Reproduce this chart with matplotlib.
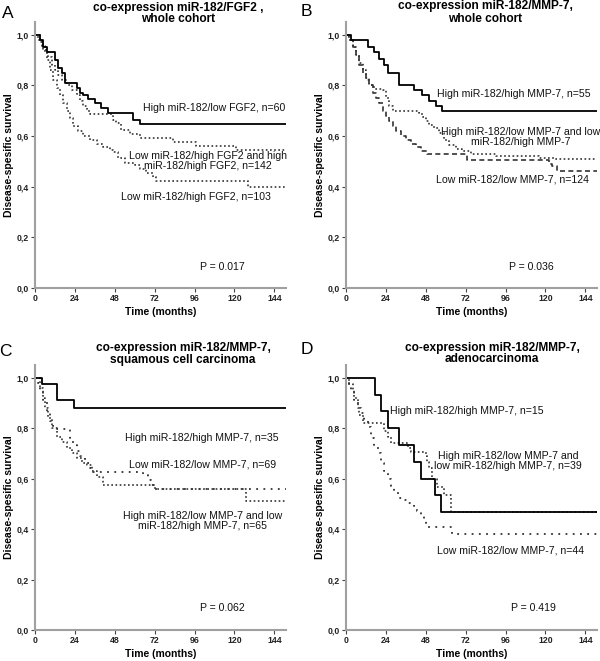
import matplotlib
matplotlib.use("Agg")
import matplotlib.pyplot as plt

plt.rcParams['font.family'] = ['Liberation Sans', 'DejaVu Sans']

W, H = 600, 661

# x/y ticks shared by all panels
x_ticks = [0, 24, 48, 72, 96, 120, 144]
y_ticks = [0.0, 0.2, 0.4, 0.6, 0.8, 1.0]
y_tick_labels = ["0,0", "0,2", "0,4", "0,6", "0,8", "1,0"]

# Panel A: miR-182/FGF2, whole cohort
a_hi_lo_t = [0, 3, 5, 7, 12, 14, 16, 18, 25, 27, 29, 32, 36, 40, 44, 59, 63, 151]
a_hi_lo_s = [1.0, 0.98, 0.95, 0.93, 0.90, 0.87, 0.85, 0.81, 0.79, 0.77, 0.76, 0.745,
             0.73, 0.71, 0.69, 0.665, 0.648, 0.648]
a_mix_t = [0, 2, 4, 6, 8, 10, 12, 14, 16, 19, 22, 25, 27, 29, 31, 33, 47, 49, 52, 57,
           63, 83, 97, 121, 151]
a_mix_s = [1.0, 0.98, 0.955, 0.93, 0.91, 0.88, 0.86, 0.84, 0.82, 0.80, 0.78, 0.76,
           0.74, 0.72, 0.70, 0.685, 0.665, 0.65, 0.625, 0.608, 0.592, 0.578, 0.562,
           0.545, 0.545]
a_lo_hi_t = [0, 3, 5, 7, 9, 11, 13, 15, 17, 19, 21, 23, 26, 29, 33, 37, 41, 45, 47,
             50, 54, 60, 63, 67, 71, 73, 128, 151]
a_lo_hi_s = [1.0, 0.97, 0.94, 0.90, 0.86, 0.82, 0.79, 0.76, 0.73, 0.70, 0.67, 0.64,
             0.62, 0.60, 0.585, 0.57, 0.555, 0.545, 0.535, 0.515, 0.495, 0.485, 0.47,
             0.455, 0.44, 0.424, 0.40, 0.40]

# Panel B: miR-182/MMP-7, whole cohort
b_hi_hi_t = [0, 3, 13, 17, 20, 23, 25, 32, 41, 46, 50, 54, 58, 151]
b_hi_hi_s = [1.0, 0.98, 0.95, 0.93, 0.905, 0.88, 0.85, 0.80, 0.78, 0.76, 0.74, 0.72,
             0.697, 0.697]
b_mix_t = [0, 2, 4, 6, 8, 10, 12, 14, 17, 22, 24, 26, 28, 44, 46, 48, 50, 53, 56, 59,
           62, 66, 70, 75, 90, 116, 125, 151]
b_mix_s = [1.0, 0.98, 0.95, 0.92, 0.89, 0.86, 0.83, 0.80, 0.785, 0.78, 0.75, 0.72,
           0.70, 0.69, 0.675, 0.66, 0.645, 0.63, 0.61, 0.585, 0.565, 0.55, 0.54, 0.53,
           0.52, 0.515, 0.51, 0.51]
b_lo_lo_t = [0, 2, 4, 6, 8, 10, 12, 14, 16, 18, 20, 22, 24, 26, 28, 30, 33, 36, 39,
             42, 45, 49, 73, 122, 124, 127, 151]
b_lo_lo_s = [1.0, 0.98, 0.95, 0.92, 0.88, 0.85, 0.82, 0.80, 0.77, 0.75, 0.73, 0.70,
             0.68, 0.66, 0.64, 0.62, 0.60, 0.585, 0.57, 0.555, 0.54, 0.53, 0.506, 0.49,
             0.48, 0.46, 0.46]

# Panel C: squamous cell carcinoma
c_hi_hi_t = [0, 4, 13, 23.5, 151]
c_hi_hi_s = [1.0, 0.975, 0.913, 0.88, 0.88]
c_lo_lo_t = [0, 2, 3, 5, 7, 9, 11, 13, 21, 23, 25, 27, 30, 33, 35, 65, 68, 70, 72, 151]
c_lo_lo_s = [1.0, 0.98, 0.95, 0.91, 0.86, 0.83, 0.81, 0.796, 0.76, 0.735, 0.71, 0.69,
             0.66, 0.64, 0.627, 0.614, 0.594, 0.575, 0.558, 0.558]
c_mix_t = [0, 3, 5, 6, 8, 10, 13, 16, 19, 22, 25, 28, 31, 34, 37, 41, 72, 127, 151]
c_mix_s = [1.0, 0.96, 0.92, 0.88, 0.84, 0.80, 0.765, 0.745, 0.72, 0.70, 0.68, 0.66,
           0.652, 0.63, 0.607, 0.574, 0.558, 0.513, 0.513]

# Panel D: adenocarcinoma
d_hi_hi_t = [0, 17.5, 21, 25, 32, 41, 45, 53.5, 57, 151]
d_hi_hi_s = [1.0, 0.933, 0.867, 0.80, 0.733, 0.667, 0.60, 0.533, 0.467, 0.467]
d_mix_t = [0, 2, 4, 5, 7, 8, 10, 23, 25, 27, 37, 39, 48, 49, 50, 52, 55, 59, 63, 151]
d_mix_s = [1.0, 0.975, 0.95, 0.92, 0.88, 0.85, 0.82, 0.79, 0.765, 0.74, 0.72, 0.705,
           0.69, 0.665, 0.64, 0.60, 0.567, 0.534, 0.467, 0.467]
d_lo_lo_t = [0, 2, 3, 5, 7, 9, 11, 13, 15, 17, 19, 21, 23, 25, 27, 29, 31, 34, 37, 41,
             43, 45, 47, 48, 63.5, 151]
d_lo_lo_s = [1.0, 0.975, 0.95, 0.91, 0.88, 0.86, 0.835, 0.805, 0.76, 0.73, 0.70, 0.66,
             0.63, 0.60, 0.57, 0.545, 0.525, 0.515, 0.505, 0.49, 0.47, 0.455, 0.43,
             0.41, 0.38, 0.38]

SOLID = dict(color="black", lw=1.3, ls="-")
DOT = dict(color="#333333", lw=1.2, ls=(0, (1, 1.5)))
SPARSE = dict(color="#333333", lw=1.3, ls=(0, (1, 3)))
DASH = dict(color="#333333", lw=1.2, ls=(0, (3, 2)))


def px(x, y):
    return x / W, 1 - y / H


def make_axes(fig, left, bottom_px, top_px, right):
    l, b = px(left, bottom_px)
    r, t = px(right, top_px)
    ax = fig.add_axes([l, b, r - l, t - b])
    ax.set_xlim(0, 151)
    ax.set_ylim(0, 1.05)
    for s in ("top", "right"):
        ax.spines[s].set_visible(False)
    for s in ("left", "bottom"):
        ax.spines[s].set_color("#a0a0a0")
        ax.spines[s].set_linewidth(1.5)
    ax.set_xticks(x_ticks)
    ax.set_yticks(y_ticks)
    ax.set_yticklabels(y_tick_labels)
    ax.tick_params(length=3, width=0.8, color="#444444", labelsize=6.3, pad=1.5,
                   labelcolor="#222222")
    for lab in ax.get_xticklabels() + ax.get_yticklabels():
        lab.set_fontweight("bold")
    ax.set_xlabel("Time (months)", fontsize=7.5, fontweight="bold", labelpad=3)
    ax.set_ylabel("Disease-spesific survival", fontsize=7.5, fontweight="bold",
                  labelpad=2)
    return ax


def km(ax, t, s, style):
    ax.step(t, s, where="post", **style)


def note(ax, x, y, txt, size=7.6):
    ax.text(x, y, txt, ha="center", va="center", fontsize=size, linespacing=1.0,
            color="#111111")


fig = plt.figure(figsize=(6, 6.61), dpi=100)

# ---- A ----
ax = make_axes(fig, 35, 288, 22, 286)
km(ax, a_lo_hi_t, a_lo_hi_s, DOT)
km(ax, a_mix_t, a_mix_s, DOT)
km(ax, a_hi_lo_t, a_hi_lo_s, SOLID)
note(ax, 108, 0.71, "High miR-182/low FGF2, n=60")
note(ax, 104, 0.50, "Low miR-182/high FGF2 and high\nmiR-182/high FGF2, n=142")
note(ax, 96.7, 0.358, "Low miR-182/high FGF2, n=103")
note(ax, 112.5, 0.082, "P = 0.017")

# ---- B ----
ax = make_axes(fig, 346, 288, 22, 597)
km(ax, b_lo_lo_t, b_lo_lo_s, DASH)
km(ax, b_mix_t, b_mix_s, DOT)
km(ax, b_hi_hi_t, b_hi_hi_s, SOLID)
note(ax, 100.7, 0.767, "High miR-182/high MMP-7, n=55")
note(ax, 104.9, 0.597, "High miR-182/low MMP-7 and low\nmiR-182/high MMP-7")
note(ax, 100.4, 0.427, "Low miR-182/low MMP-7, n=124")
note(ax, 111.5, 0.084, "P = 0.036")

# ---- C ----
ax = make_axes(fig, 35, 630, 365, 286)
km(ax, c_mix_t, c_mix_s, DOT)
km(ax, c_lo_lo_t, c_lo_lo_s, SPARSE)
km(ax, c_hi_hi_t, c_hi_hi_s, SOLID)
note(ax, 100.6, 0.761, "High miR-182/high MMP-7, n=35")
note(ax, 101, 0.655, "Low miR-182/low MMP-7, n=69")
note(ax, 101, 0.433, "High miR-182/low MMP-7 and low\nmiR-182/high MMP-7, n=65")
note(ax, 112.6, 0.089, "P = 0.062")

# ---- D ----
ax = make_axes(fig, 346, 630, 365, 597)
km(ax, d_lo_lo_t, d_lo_lo_s, SPARSE)
km(ax, d_mix_t, d_mix_s, DOT)
km(ax, d_hi_hi_t, d_hi_hi_s, SOLID)
note(ax, 72.4, 0.869, "High miR-182/high MMP-7, n=15")
note(ax, 97.4, 0.67, "High miR-182/low MMP-7 and\nlow miR-182/high MMP-7, n=39")
note(ax, 99.2, 0.315, "Low miR-182/low MMP-7, n=44")
note(ax, 112.5, 0.086, "P = 0.419")

# titles and panel letters
titles = [
    (178, 13.5, "co-expression miR-182/FGF2 ,\nwhole cohort"),
    (485, 12.5, "co-expression miR-182/MMP-7,\nwhole cohort"),
    (183, 353.5, "co-expression miR-182/MMP-7,\nsquamous cell carcinoma"),
    (492, 353.5, "co-expression miR-182/MMP-7,\nadenocarcinoma"),
]
for x, y, txt in titles:
    fig.text(*px(x, y), txt, ha="center", va="center", fontsize=8.6,
             fontweight="bold", linespacing=1.0)

letters = [(7.5, 14, "A"), (306.5, 11.5, "B"), (5.5, 351.5, "C"), (306.5, 350, "D")]
for x, y, txt in letters:
    fig.text(*px(x, y), txt, ha="center", va="center", fontsize=12.5)

fig.savefig("out.png", dpi=100)
